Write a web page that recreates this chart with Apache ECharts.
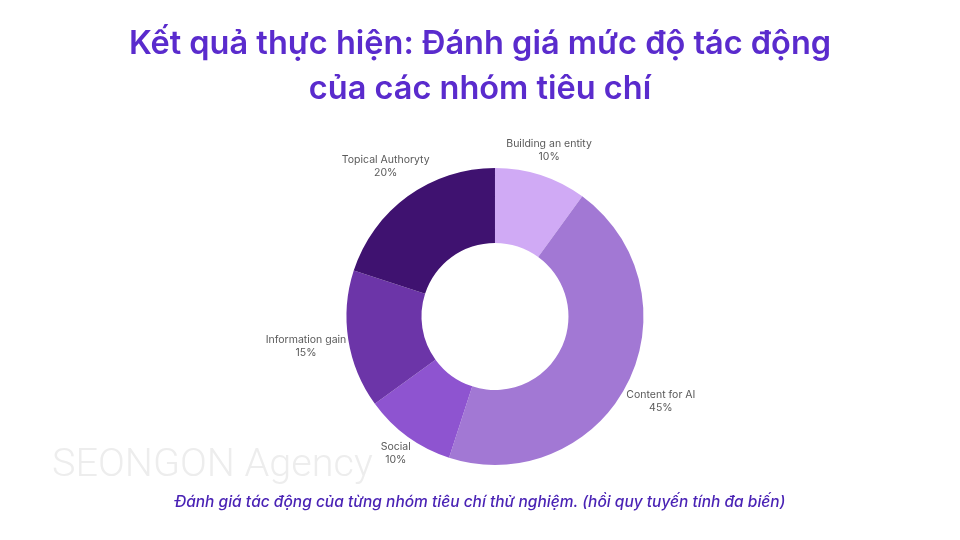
<!DOCTYPE html>
<html>
<head>
<meta charset="utf-8">
<script src="https://cdn.jsdelivr.net/npm/echarts@6/dist/echarts.min.js"></script>
<style>
html,body{margin:0;padding:0;background:#fff;}
#chart{width:960px;height:540px;}
</style>
</head>
<body>
<div id="chart"></div>
<script>
const categories = ['Building an entity', 'Content for AI', 'Social', 'Information gain', 'Topical Authoryty'];
const values = [10, 45, 10, 15, 20];
const colors = ['#d0aaf5', '#a278d4', '#8e54d0', '#6c35a8', '#3f1270'];
const titleText = 'Kết quả thực hiện: Đánh giá mức độ tác động\ncủa các nhóm tiêu chí';
const subtitleText = 'Đánh giá tác động của từng nhóm tiêu chí thử nghiệm. (hồi quy tuyến tính đa biến)';
const watermarkText = 'SEONGON Agency';

const chart = echarts.init(document.getElementById('chart'));
const CX = 0.5156, CY = 0.586, R_IN = 73.5, R_OUT = 148.5, GAP = 1;
const total = values.reduce((a, b) => a + b, 0);

const option = {
  backgroundColor: '#ffffff',
  title: [
    {
      text: titleText,
      left: 'center',
      top: 17,
      textStyle: {
        fontFamily: 'Inter',
        fontWeight: 600,
        fontSize: 32.5,
        lineHeight: 45,
        color: '#5a2bcd'
      }
    },
    {
      text: subtitleText,
      left: 'center',
      top: 489,
      textStyle: {
        fontFamily: 'Inter',
        fontStyle: 'italic',
        fontWeight: 500,
        fontSize: 15.5,
        color: '#4a23b5'
      }
    }
  ],
  graphic: [
    {
      type: 'text',
      left: 52,
      top: 446,
      z: -1,
      style: {
        text: watermarkText,
        fontFamily: 'Roboto',
        fontWeight: 300,
        fontSize: 39.6,
        fill: '#ededed'
      }
    }
  ],
  series: [
    {
      type: 'pie',
      center: [(CX * 100) + '%', (CY * 100) + '%'],
      radius: [R_IN, R_OUT],
      startAngle: 90,
      clockwise: true,
      avoidLabelOverlap: false,
      silent: true,
      itemStyle: { borderWidth: 0 },
      label: {
        show: true,
        position: 'outside',
        formatter: p => p.name + '\n' + p.value + '%',
        fontFamily: 'Inter',
        fontSize: 10.5,
        lineHeight: 13,
        color: '#5a5a5a',
        align: 'center'
      },
      labelLine: { show: false, length: 0, length2: 0 },
      labelLayout: function (params) {
        const i = params.dataIndex;
        let cum = 0;
        for (let k = 0; k < i; k++) cum += values[k];
        const midFrac = (cum + values[i] / 2) / total;
        const ang = midFrac * 2 * Math.PI; // clockwise from top
        const dx = Math.sin(ang), dy = -Math.cos(ang);
        const w = params.labelRect.width, h = params.labelRect.height;
        const ext = Math.abs(dx) * w / 2 + Math.abs(dy) * h / 2;
        const d = R_OUT + GAP + ext;
        const cx = chart.getWidth() * CX, cy = chart.getHeight() * CY;
        return {
          x: cx + dx * d,
          y: cy + dy * d,
          align: 'center',
          verticalAlign: 'middle'
        };
      },
      data: categories.map((c, i) => ({ name: c, value: values[i], itemStyle: { color: colors[i] } }))
    }
  ]
};
chart.setOption(option);
</script>
</body>
</html>
